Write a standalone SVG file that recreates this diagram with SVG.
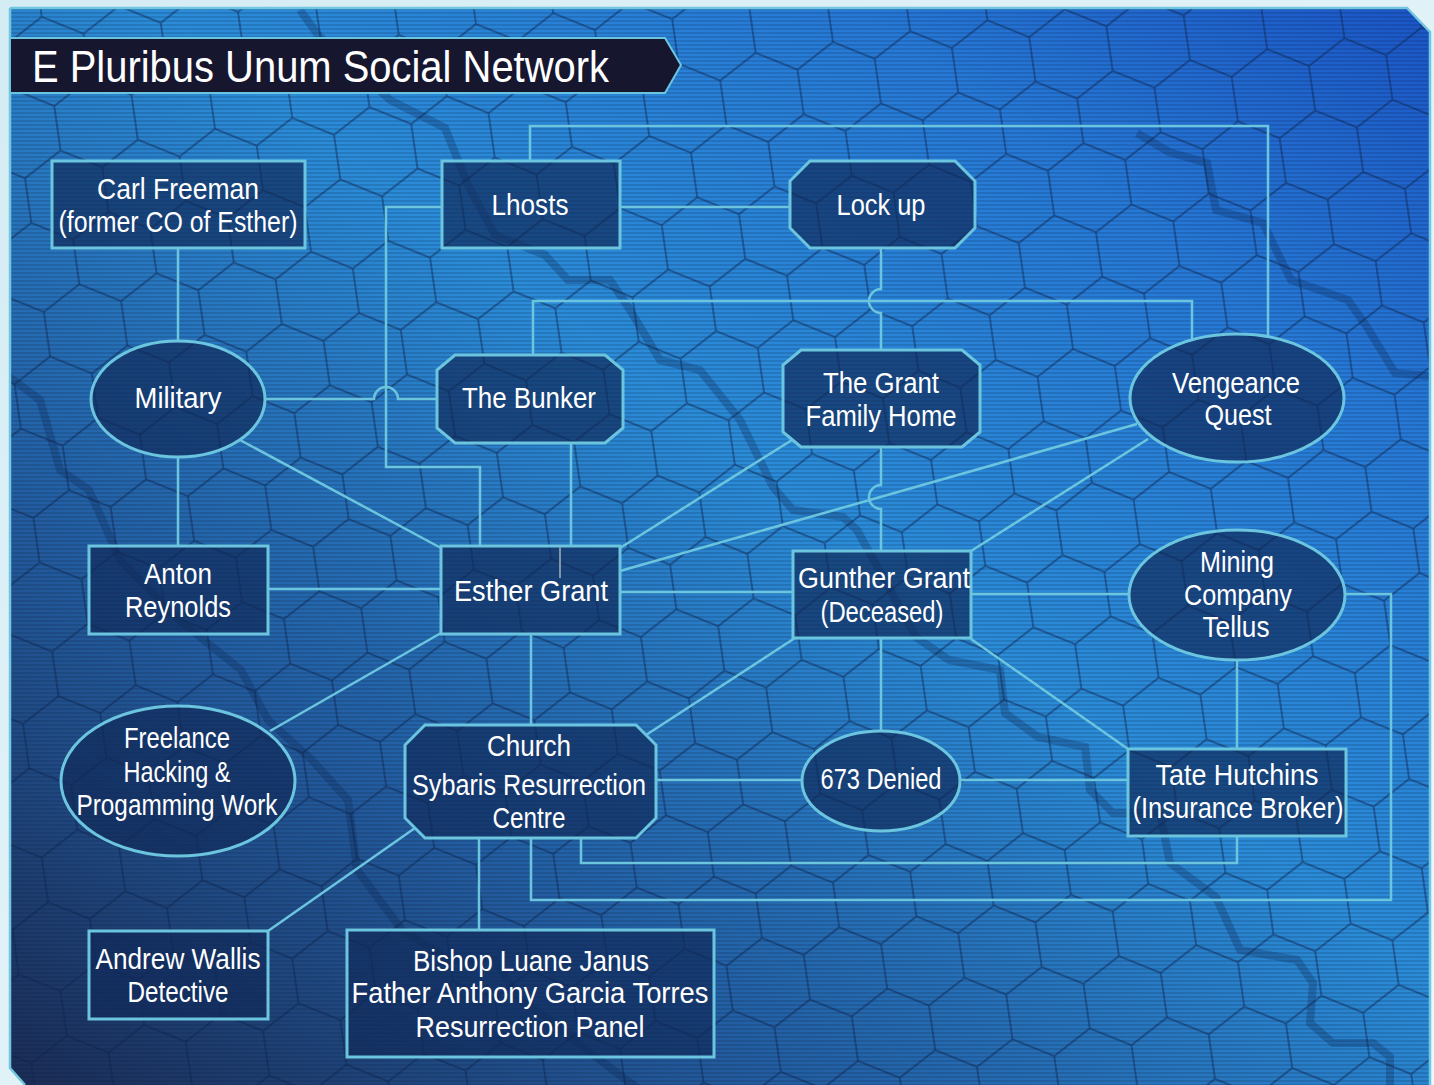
<svg xmlns="http://www.w3.org/2000/svg" width="1434" height="1085" viewBox="0 0 1434 1085">
<defs>
  <linearGradient id="outer" x1="0" y1="0" x2="1" y2="1">
    <stop offset="0" stop-color="#d4ecf4"/>
    <stop offset="1" stop-color="#eef8fb"/>
  </linearGradient>
  <linearGradient id="bg" x1="0" y1="1" x2="1" y2="0">
    <stop offset="0" stop-color="#1b2c55"/>
    <stop offset="0.28" stop-color="#235ea2"/>
    <stop offset="0.55" stop-color="#2b8cd8"/>
    <stop offset="0.8" stop-color="#2679d6"/>
    <stop offset="1" stop-color="#1b55c6"/>
  </linearGradient>
  <pattern id="scan" width="8" height="4" patternUnits="userSpaceOnUse">
    <rect x="0" y="0" width="8" height="2" fill="#06183a" fill-opacity="0.16"/>
  </pattern>
  <pattern id="hex" width="78" height="135" patternUnits="userSpaceOnUse" patternTransform="rotate(-8)">
    <path d="M39,22.5 L78,45 L78,90 L39,112.5 L0,90 L0,45 Z M39,0 L39,22.5 M39,112.5 L39,135" fill="none" stroke="#0c2550" stroke-opacity="0.55" stroke-width="1.6"/>
  </pattern>
  <clipPath id="panelClip">
    <path d="M10,8 H1407 L1430,32 V1085 H25 L10,1068 Z"/>
  </clipPath>
  <style>
    .node { fill: #102a58; fill-opacity: 0.68; stroke: #6cc5df; stroke-width: 3; }
    .lbl { fill: #ffffff; font-family: "Liberation Sans", "DejaVu Sans", sans-serif; font-size: 29px; text-anchor: middle; }
    .title { fill: #ffffff; font-family: "Liberation Sans", "DejaVu Sans", sans-serif; font-size: 45px; }
    .conn { fill: none; stroke: #6cc5df; stroke-width: 2.5; }
    .zig { fill: none; stroke: #0c2450; stroke-opacity: 0.28; stroke-width: 8; stroke-linejoin: miter; }
  </style>
</defs>

<!-- backdrop -->
<rect x="0" y="0" width="1434" height="1085" fill="url(#outer)"/>
<g id="panel">
  <path d="M10,8 H1407 L1430,32 V1085 H25 L10,1068 Z" fill="url(#bg)"/>
  <g clip-path="url(#panelClip)">
    <rect x="0" y="0" width="1434" height="1085" fill="url(#hex)"/>
    <path class="zig" d="M300,10 L318,35 L390,100 L445,128 L468,185 L495,235 L545,255 L568,280 L610,280 L630,310 L660,360 L700,370 L740,420 L773,487 L793,510 L843,517 L857,530 L916,637 L949,660 L1000,670 L1005,713 L1038,737 L1085,747 L1090,790 L1113,813 L1160,813 L1170,863 L1216,897 L1240,950 L1297,960 L1313,983 L1310,1023 L1333,1043 L1373,1043 L1390,1057 L1390,1090"/>
    <path class="zig" d="M1137,133 L1169,152 L1207,163 L1216,210 L1263,223 L1291,280 L1348,300 L1367,327 L1395,373 L1440,377"/>
    <path class="zig" d="M0,370 L40,400 L60,470 L89,490 L120,560 L179,620 L241,670 L268,720 L312,760 L348,800 L357,870 L402,930 L450,960 L495,960 L520,1000 L550,1020 L600,1060 L640,1090"/>
    <rect x="0" y="0" width="1434" height="1085" fill="url(#scan)"/>
  </g>
  <path d="M10,8 H1407 L1430,32 V1085 M25,1085 L10,1068 V8" fill="none" stroke="#72c6e0" stroke-width="2.5"/>
</g>

<!-- title -->
<g id="title">
  <path d="M10,38 H665 L681,65 L665,93 H10 Z" fill="#16162f" stroke="#6cc5df" stroke-width="2"/>
  <text class="title" x="32" y="82" textLength="577" lengthAdjust="spacingAndGlyphs">E Pluribus Unum Social Network</text>
</g>

<!-- connectors -->
<g id="connectors">
  <path class="conn" d="M178,248 V341"/>
  <path class="conn" d="M178,457 V546"/>
  <path class="conn" d="M265,399 H374 A12,12 0 0 1 398,399 H437"/>
  <path class="conn" d="M442,207 H386 V467 H480 V546"/>
  <path class="conn" d="M620,207 H790"/>
  <path class="conn" d="M530,161 V126 H1268 V337"/>
  <path class="conn" d="M881,248 V289 A12,12 0 0 0 881,313 V350"/>
  <path class="conn" d="M533,355 V301 H1192 V339"/>
  <path class="conn" d="M571,443 V546"/>
  <path class="conn" d="M240,440 L441,548"/>
  <path class="conn" d="M268,589 H441"/>
  <path class="conn" d="M441,633 L270,731"/>
  <path class="conn" d="M620,548 L792,440"/>
  <path class="conn" d="M620,571 L1137,424"/>
  <path class="conn" d="M881,447 V485 A12,12 0 0 0 881,509 V551"/>
  <path class="conn" d="M620,592 H793"/>
  <path class="conn" d="M971,551 L1148,439"/>
  <path class="conn" d="M971,594 H1129"/>
  <path class="conn" d="M1345,594 H1391 V900 H531 V838"/>
  <path class="conn" d="M881,638 V731"/>
  <path class="conn" d="M795,638 L646,735"/>
  <path class="conn" d="M971,639 L1128,749"/>
  <path class="conn" d="M1237,660 V749"/>
  <path class="conn" d="M656,780 H802"/>
  <path class="conn" d="M960,780 H1128"/>
  <path class="conn" d="M531,634 V725"/>
  <path class="conn" d="M581,838 V863 H1237 V836"/>
  <path class="conn" d="M415,828 L268,931"/>
  <path class="conn" d="M479,838 V930"/>
</g>

<!-- nodes -->
<g id="carl-freeman">
  <rect class="node" x="52" y="161" width="253" height="87"/>
  <text class="lbl" x="178" y="199" textLength="162" lengthAdjust="spacingAndGlyphs">Carl Freeman</text>
  <text class="lbl" x="178" y="232" textLength="239" lengthAdjust="spacingAndGlyphs">(former CO of Esther)</text>
</g>
<g id="lhosts">
  <rect class="node" x="442" y="161" width="178" height="87"/>
  <text class="lbl" x="530" y="215" textLength="77" lengthAdjust="spacingAndGlyphs">Lhosts</text>
</g>
<g id="lock-up">
  <path class="node" d="M810,161 H955 L975,181 V228 L955,248 H810 L790,228 V181 Z"/>
  <text class="lbl" x="881" y="215" textLength="89" lengthAdjust="spacingAndGlyphs">Lock up</text>
</g>
<g id="military">
  <ellipse class="node" cx="178" cy="399" rx="87" ry="58"/>
  <text class="lbl" x="178" y="408" textLength="87" lengthAdjust="spacingAndGlyphs">Military</text>
</g>
<g id="the-bunker">
  <path class="node" d="M455,355 H605 L623,370 V428 L605,443 H455 L437,428 V370 Z"/>
  <text class="lbl" x="529" y="408" textLength="134" lengthAdjust="spacingAndGlyphs">The Bunker</text>
</g>
<g id="grant-family-home">
  <path class="node" d="M801,350 H962 L980,365 V432 L962,447 H801 L783,432 V365 Z"/>
  <text class="lbl" x="881" y="393" textLength="116" lengthAdjust="spacingAndGlyphs">The Grant</text>
  <text class="lbl" x="881" y="426" textLength="151" lengthAdjust="spacingAndGlyphs">Family Home</text>
</g>
<g id="vengeance-quest">
  <ellipse class="node" cx="1237" cy="398" rx="107" ry="64"/>
  <text class="lbl" x="1236" y="393" textLength="128" lengthAdjust="spacingAndGlyphs">Vengeance</text>
  <text class="lbl" x="1238" y="425" textLength="67" lengthAdjust="spacingAndGlyphs">Quest</text>
</g>
<g id="anton-reynolds">
  <rect class="node" x="89" y="546" width="179" height="88"/>
  <text class="lbl" x="178" y="584" textLength="68" lengthAdjust="spacingAndGlyphs">Anton</text>
  <text class="lbl" x="178" y="617" textLength="106" lengthAdjust="spacingAndGlyphs">Reynolds</text>
</g>
<g id="esther-grant">
  <rect class="node" x="441" y="546" width="179" height="88"/>
  <line x1="560" y1="547" x2="560" y2="578" stroke="#8593a8" stroke-width="2"/>
  <text class="lbl" x="531" y="601" textLength="154" lengthAdjust="spacingAndGlyphs">Esther Grant</text>
</g>
<g id="gunther-grant">
  <rect class="node" x="793" y="551" width="178" height="87"/>
  <text class="lbl" x="884" y="588" textLength="172" lengthAdjust="spacingAndGlyphs">Gunther Grant</text>
  <text class="lbl" x="882" y="622" textLength="123" lengthAdjust="spacingAndGlyphs">(Deceased)</text>
</g>
<g id="mining-company-tellus">
  <ellipse class="node" cx="1237" cy="595" rx="108" ry="65"/>
  <text class="lbl" x="1237" y="572" textLength="74" lengthAdjust="spacingAndGlyphs">Mining</text>
  <text class="lbl" x="1238" y="605" textLength="108" lengthAdjust="spacingAndGlyphs">Company</text>
  <text class="lbl" x="1236" y="637" textLength="67" lengthAdjust="spacingAndGlyphs">Tellus</text>
</g>
<g id="freelance-hacking">
  <ellipse class="node" cx="178" cy="781" rx="117" ry="75"/>
  <text class="lbl" x="177" y="748" textLength="106" lengthAdjust="spacingAndGlyphs">Freelance</text>
  <text class="lbl" x="177" y="782" textLength="107" lengthAdjust="spacingAndGlyphs">Hacking &amp;</text>
  <text class="lbl" x="177" y="815" textLength="201" lengthAdjust="spacingAndGlyphs">Progamming Work</text>
</g>
<g id="church">
  <path class="node" d="M425,725 H636 L656,745 V818 L636,838 H425 L405,818 V745 Z"/>
  <text class="lbl" x="529" y="756" textLength="84" lengthAdjust="spacingAndGlyphs">Church</text>
  <text class="lbl" x="529" y="795" textLength="234" lengthAdjust="spacingAndGlyphs">Sybaris Resurrection</text>
  <text class="lbl" x="529" y="828" textLength="73" lengthAdjust="spacingAndGlyphs">Centre</text>
</g>
<g id="denied-673">
  <ellipse class="node" cx="881" cy="781" rx="79" ry="50"/>
  <text class="lbl" x="881" y="789" textLength="121" lengthAdjust="spacingAndGlyphs">673 Denied</text>
</g>
<g id="tate-hutchins">
  <rect class="node" x="1128" y="749" width="218" height="87"/>
  <text class="lbl" x="1237" y="785" textLength="163" lengthAdjust="spacingAndGlyphs">Tate Hutchins</text>
  <text class="lbl" x="1238" y="818" textLength="211" lengthAdjust="spacingAndGlyphs">(Insurance Broker)</text>
</g>
<g id="andrew-wallis">
  <rect class="node" x="89" y="931" width="179" height="88"/>
  <text class="lbl" x="178" y="969" textLength="165" lengthAdjust="spacingAndGlyphs">Andrew Wallis</text>
  <text class="lbl" x="178" y="1002" textLength="101" lengthAdjust="spacingAndGlyphs">Detective</text>
</g>
<g id="resurrection-panel">
  <rect class="node" x="347" y="930" width="367" height="127"/>
  <text class="lbl" x="531" y="971" textLength="236" lengthAdjust="spacingAndGlyphs">Bishop Luane Janus</text>
  <text class="lbl" x="530" y="1003" textLength="357" lengthAdjust="spacingAndGlyphs">Father Anthony Garcia Torres</text>
  <text class="lbl" x="530" y="1037" textLength="229" lengthAdjust="spacingAndGlyphs">Resurrection Panel</text>
</g>
</svg>
